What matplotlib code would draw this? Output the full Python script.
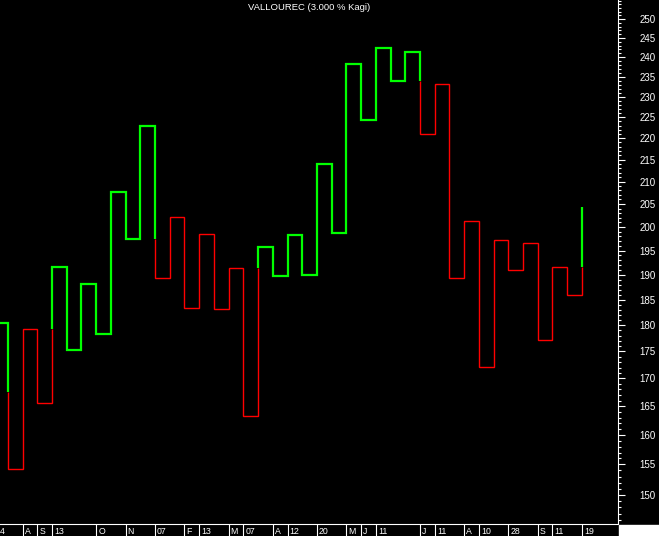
import matplotlib
matplotlib.use('Agg')
import matplotlib.pyplot as plt
from matplotlib.patches import Rectangle

# kagi turning levels: first is the starting level, then the end of each vertical
levels = [180.5, 154.2, 179.2, 165.5, 191.7, 175.3, 188.2, 178.3, 207.7, 197.5,
          223.0, 189.3, 202.1, 183.3, 198.5, 183.1, 191.3, 163.3, 195.8, 189.8,
          198.4, 190.0, 214.1, 198.8, 238.3, 224.4, 242.4, 234.0, 241.4, 220.9,
          233.3, 189.3, 201.2, 172.1, 197.2, 190.9, 196.7, 177.2, 191.5, 185.9,
          204.4]
prior_waist = 167.6  # waist before the visible part, sets first colour change

# date labels under the verticals (vertical index, text)
date_pos = [1, 2, 3, 6, 8, 10, 12, 13, 15, 16, 18, 19, 21, 23, 24, 25, 28, 29,
            31, 32, 34, 36, 37, 39]
date_lab = ['A', 'S', '13', 'O', 'N', '07', 'F', '13', 'M', '07', 'A', '12',
            '20', 'M', 'J', '11', 'J', '11', 'A', '10', '28', 'S', '11', '19']

yticks = list(range(150, 251, 5))

GREEN = '#00ff00'
RED = '#ff0000'

# build coloured segments with the kagi yang/yin rule
segs = []  # (x0, y0, x1, y1, color)
state = GREEN
shoulder = levels[0]
waist = prior_waist
segs.append((-1, levels[0], 0, levels[0], state))
n = len(levels) - 1
for k in range(n):
    a, b = levels[k], levels[k + 1]
    if b < a:
        if state == GREEN and b < waist:
            segs.append((k, a, k, waist, GREEN))
            segs.append((k, waist, k, b, RED))
            state = RED
        else:
            segs.append((k, a, k, b, state))
        waist = b
    else:
        if state == RED and b > shoulder:
            segs.append((k, a, k, shoulder, RED))
            segs.append((k, shoulder, k, b, GREEN))
            state = GREEN
        else:
            segs.append((k, a, k, b, state))
        shoulder = b
    if k < n - 1:
        segs.append((k, b, k + 1, b, state))

fig = plt.figure(figsize=(6.59, 5.36), dpi=100, facecolor='black')
ax = fig.add_axes([0, 12 / 536, 618 / 659, 524 / 536], facecolor='black')

# merge runs of equal colour into polylines
runs = []
for s in segs:
    if runs and runs[-1][2] == s[4] and runs[-1][0][-1] == s[0] and runs[-1][1][-1] == s[1]:
        runs[-1][0].append(s[2])
        runs[-1][1].append(s[3])
    else:
        runs.append(([s[0], s[2]], [s[1], s[3]], s[4]))
for xs, ys, c in runs:
    lw = 1.6 if c == GREEN else 1.0
    ax.plot(xs, ys, color=c, lw=lw, solid_joinstyle='miter', solid_capstyle='butt')

ax.set_yscale('log')
ax.set_ylim(145.4, 255.2)
ax.set_xlim(-0.53, 41.45)

ax.yaxis.tick_right()
ax.set_yticks(yticks)
ax.set_yticklabels([str(t) for t in yticks])
ax.set_yticks(list(range(146, 256)), minor=True)
ax.yaxis.set_minor_formatter(plt.NullFormatter())
ax.tick_params(axis='y', which='major', direction='out', length=5, width=0.8,
               colors='white', labelsize=7, pad=10.5)
ax.tick_params(axis='y', which='minor', direction='out', length=2.5, width=0.8,
               colors='white')
for lab in ax.get_yticklabels():
    lab.set_family('Liberation Sans')

ax.set_xticks(date_pos)
ax.set_xticklabels([])
ax.tick_params(axis='x', which='both', direction='out', length=9, width=0.8,
               colors='white')
ax.xaxis.set_minor_locator(plt.NullLocator())
for p, lab in zip(date_pos, date_lab):
    ax.annotate(lab, xy=(p, 0), xycoords=('data', 'axes fraction'),
                xytext=(1.5, -5.2), textcoords='offset points', ha='left',
                va='center', color='white', fontsize=6.3, family='Liberation Sans',
                annotation_clip=False)
ax.annotate('4', xy=(-0.53, 0), xycoords=('data', 'axes fraction'),
            xytext=(0, -5.2), textcoords='offset points', ha='left', va='center',
            color='white', fontsize=6.3, family='Liberation Sans',
            annotation_clip=False)

for side in ['top', 'left']:
    ax.spines[side].set_visible(False)
ax.spines['right'].set_color('white')
ax.spines['bottom'].set_color('white')
ax.spines['right'].set_linewidth(0.8)
ax.spines['bottom'].set_linewidth(0.8)

fig.text(309 / 659, 1 - 8 / 536, 'VALLOUREC (3.000 % Kagi)', ha='center',
         va='center', color='white', fontsize=6.8, family='Liberation Sans')
fig.patches.append(Rectangle((619 / 659, 0), 40 / 659, 11 / 536,
                             transform=fig.transFigure, color='white', zorder=5))

fig.savefig('out.png', dpi=100, facecolor='black')
